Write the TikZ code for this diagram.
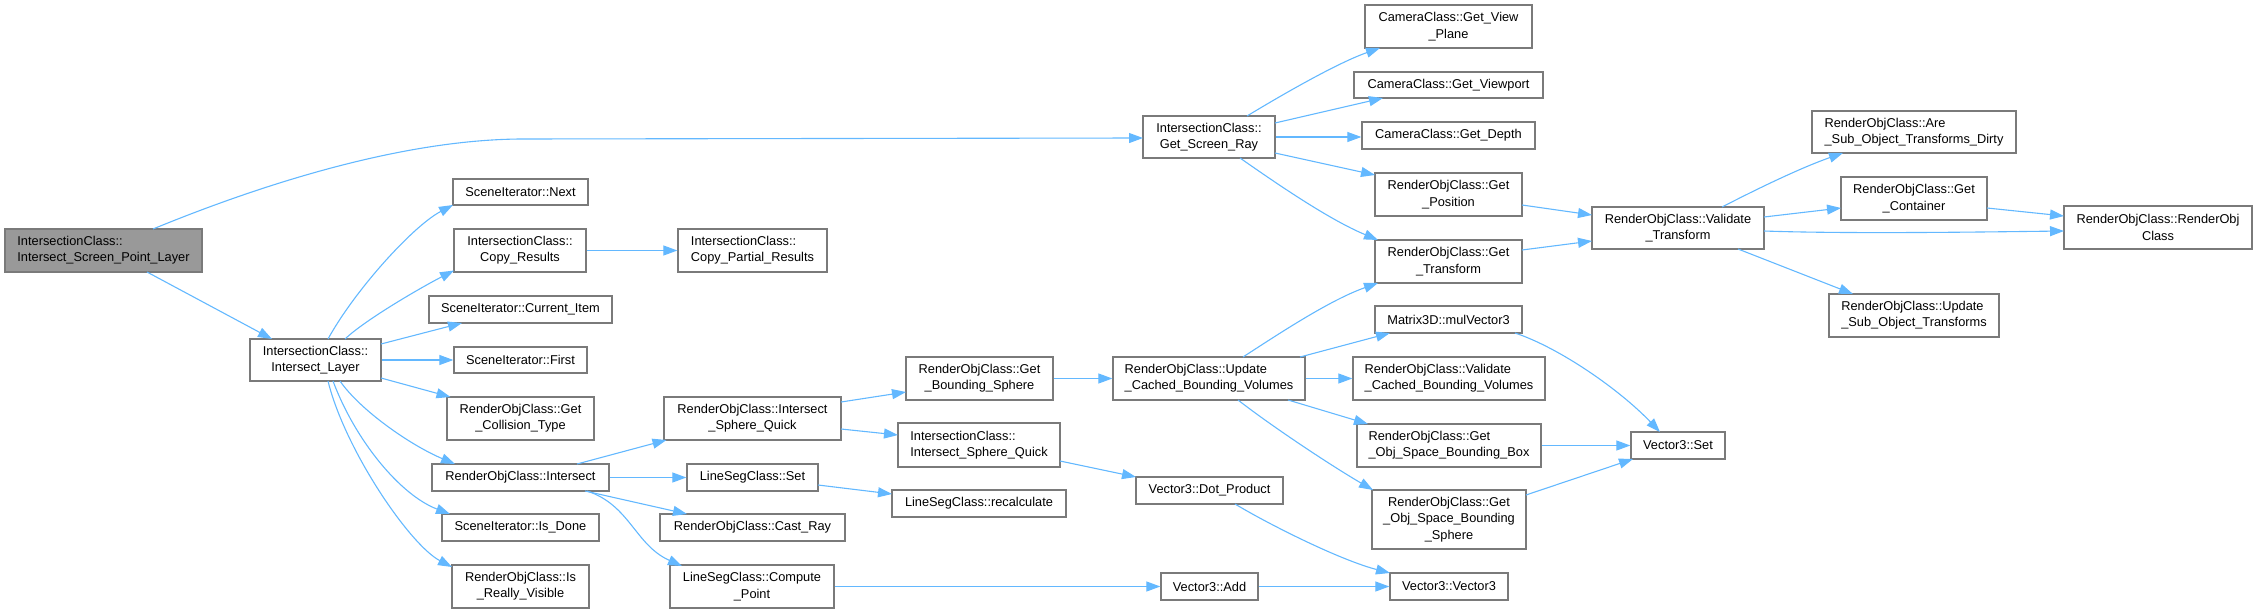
\documentclass[tikz,border=0pt]{standalone}
\usepackage{fontspec}
\setmainfont{Liberation Sans}
\usetikzlibrary{arrows.meta}
\definecolor{edgeblue}{HTML}{63B8FF}
\definecolor{boxline}{HTML}{7A7A7A}
\definecolor{rootfill}{HTML}{999999}
\begin{document}
\begin{tikzpicture}[x=1pt,y=-1pt,
  box/.style={draw=boxline, line width=1.3pt, rectangle, inner sep=0pt, fill=white,
    font=\fontsize{12.8}{16.3}\selectfont, text=black, align=center},
  lbox/.style={box, align=left},
  edge/.style={draw=edgeblue, line width=1.1pt, -{Triangle[length=14pt,width=10pt]}}]
\useasboundingbox (0,0) rectangle (2257,613);

% nodes
\node[lbox, fill=rootfill, minimum width=197pt, minimum height=43pt] (root) at (103.5,250.5) {IntersectionClass::\\Intersect\_Screen\_Point\_Layer};
\node[box, minimum width=131pt, minimum height=42pt] (layer) at (315.5,360) {IntersectionClass::\\Intersect\_Layer};
\node[box, minimum width=135pt, minimum height=26pt] (next) at (520.5,192) {SceneIterator::Next};
\node[box, minimum width=132pt, minimum height=43pt] (copyres) at (520,250.5) {IntersectionClass::\\Copy\_Results};
\node[lbox, minimum width=149pt, minimum height=43pt] (copypart) at (752.5,250.5) {IntersectionClass::\\Copy\_Partial\_Results};
\node[box, minimum width=183pt, minimum height=27pt] (curitem) at (520.5,309.5) {SceneIterator::Current\_Item};
\node[box, minimum width=133pt, minimum height=26pt] (first) at (520.5,360) {SceneIterator::First};
\node[box, minimum width=147pt, minimum height=43pt] (colltype) at (520.5,418.5) {RenderObjClass::Get\\\_Collision\_Type};
\node[box, minimum width=177pt, minimum height=27pt] (intersect) at (520.5,477.5) {RenderObjClass::Intersect};
\node[box, minimum width=157pt, minimum height=27pt] (isdone) at (520.5,527.5) {SceneIterator::Is\_Done};
\node[box, minimum width=137pt, minimum height=43pt] (visible) at (520.5,586.5) {RenderObjClass::Is\\\_Really\_Visible};
\node[box, minimum width=177pt, minimum height=43pt] (rosphere) at (752.5,418.5) {RenderObjClass::Intersect\\\_Sphere\_Quick};
\node[box, minimum width=131pt, minimum height=27pt] (lsset) at (752.5,477.5) {LineSegClass::Set};
\node[box, minimum width=185pt, minimum height=27pt] (castray) at (752.5,527.5) {RenderObjClass::Cast\_Ray};
\node[box, minimum width=164pt, minimum height=43pt] (compute) at (752,586.5) {LineSegClass::Compute\\\_Point};
\node[box, minimum width=147pt, minimum height=43pt] (bsphere) at (979.5,378.5) {RenderObjClass::Get\\\_Bounding\_Sphere};
\node[lbox, minimum width=162pt, minimum height=44pt] (icsphere) at (979,445) {IntersectionClass::\\Intersect\_Sphere\_Quick};
\node[box, minimum width=174pt, minimum height=27pt] (recalc) at (979,503.5) {LineSegClass::recalculate};
\node[box, minimum width=132pt, minimum height=42pt] (screenray) at (1209,137) {IntersectionClass::\\Get\_Screen\_Ray};
\node[box, minimum width=167pt, minimum height=43pt] (viewplane) at (1448.5,26.5) {CameraClass::Get\_View\\\_Plane};
\node[box, minimum width=189pt, minimum height=26pt] (viewport) at (1448.5,85) {CameraClass::Get\_Viewport};
\node[box, minimum width=173pt, minimum height=27pt] (depth) at (1448.5,135.5) {CameraClass::Get\_Depth};
\node[box, minimum width=147pt, minimum height=43pt] (position) at (1448.5,194.5) {RenderObjClass::Get\\\_Position};
\node[box, minimum width=147pt, minimum height=43pt] (transform) at (1448.5,261.5) {RenderObjClass::Get\\\_Transform};
\node[box, minimum width=147pt, minimum height=27pt] (mulvec) at (1448.5,319.5) {Matrix3D::mulVector3};
\node[lbox, minimum width=192pt, minimum height=43pt] (updcache) at (1209,378.5) {RenderObjClass::Update\\\_Cached\_Bounding\_Volumes};
\node[lbox, minimum width=192pt, minimum height=43pt] (valcache) at (1449,378.5) {RenderObjClass::Validate\\\_Cached\_Bounding\_Volumes};
\node[lbox, minimum width=184pt, minimum height=43pt] (objbox) at (1449,445.5) {RenderObjClass::Get\\\_Obj\_Space\_Bounding\_Box};
\node[box, minimum width=154pt, minimum height=59pt] (objsphere) at (1449,519.5) {RenderObjClass::Get\\\_Obj\_Space\_Bounding\\\_Sphere};
\node[box, minimum width=147pt, minimum height=27pt] (dot) at (1209.5,490.5) {Vector3::Dot\_Product};
\node[box, minimum width=97pt, minimum height=27pt] (add) at (1209.5,586.5) {Vector3::Add};
\node[box, minimum width=118pt, minimum height=27pt] (vec3) at (1449,586.5) {Vector3::Vector3};
\node[box, minimum width=94pt, minimum height=27pt] (vset) at (1678,445.5) {Vector3::Set};
\node[box, minimum width=172pt, minimum height=42pt] (valtrans) at (1678,228) {RenderObjClass::Validate\\\_Transform};
\node[lbox, minimum width=204pt, minimum height=42pt] (aredirty) at (1914,132) {RenderObjClass::Are\\\_Sub\_Object\_Transforms\_Dirty};
\node[box, minimum width=146pt, minimum height=43pt] (container) at (1914,198.5) {RenderObjClass::Get\\\_Container};
\node[box, minimum width=188pt, minimum height=43pt] (roclass) at (2158,227.5) {RenderObjClass::RenderObj\\Class};
\node[lbox, minimum width=170pt, minimum height=43pt] (updsub) at (1914,315.5) {RenderObjClass::Update\\\_Sub\_Object\_Transforms};

% edges
\draw[edge] ([shift={(49.5,-21.5)}]root.center) .. controls (260,185) and (400,140) .. (520,139) -- ([shift={(-66,1)}]screenray.center);
\draw[edge] ([shift={(43.5,21.5)}]root.center) -- ([shift={(-43.5,-21)}]layer.center);
\draw[edge] ([shift={(12.5,-21)}]layer.center) .. controls (355,290) and (413,226) .. ([shift={(-67.5,13)}]next.center);
\draw[edge] ([shift={(29.5,-21)}]layer.center) .. controls (365,320) and (420,288) .. ([shift={(-66,20)}]copyres.center);
\draw[edge] ([shift={(65.5,-16)}]layer.center) -- ([shift={(-58.5,13.5)}]curitem.center);
\draw[edge] (layer.east) -- (first.west);
\draw[edge] ([shift={(65.5,18)}]layer.center) -- ([shift={(-70,-21.5)}]colltype.center);
\draw[edge] ([shift={(24.5,21)}]layer.center) .. controls (360,410) and (410,445) .. ([shift={(-65.5,-13.5)}]intersect.center);
\draw[edge] ([shift={(17.5,21)}]layer.center) .. controls (355,440) and (400,495) .. ([shift={(-70.5,-13.5)}]isdone.center);
\draw[edge] ([shift={(12.5,21)}]layer.center) .. controls (345,450) and (410,545) .. ([shift={(-68.5,-19.5)}]visible.center);
\draw[edge] (copyres.east) -- (copypart.west);
\draw[edge] ([shift={(56.5,-13.5)}]intersect.center) -- ([shift={(-86,21.5)}]rosphere.center);
\draw[edge] (intersect.east) -- (lsset.west);
\draw[edge] ([shift={(64.5,13.5)}]intersect.center) -- ([shift={(-65.5,-13.5)}]castray.center);
\draw[edge] ([shift={(66.5,13.5)}]intersect.center) .. controls (630,505) and (635,545) .. ([shift={(-70,-20.5)}]compute.center);
\draw[edge] ([shift={(88.5,-16.5)}]rosphere.center) -- ([shift={(-73.5,13.5)}]bsphere.center);
\draw[edge] ([shift={(88.5,10.5)}]rosphere.center) -- ([shift={(-81,-10)}]icsphere.center);
\draw[edge] ([shift={(65.5,7.5)}]lsset.center) -- ([shift={(-87,-9.5)}]recalc.center);
\draw[edge] (compute.east) -- (add.west);
\draw[edge] (bsphere.east) -- (updcache.west);
\draw[edge] ([shift={(81,16)}]icsphere.center) -- ([shift={(-73.5,-13.5)}]dot.center);
\draw[edge] ([shift={(38,-21)}]screenray.center) .. controls (1290,90) and (1340,62) .. ([shift={(-68.5,21.5)}]viewplane.center);
\draw[edge] ([shift={(66,-14)}]screenray.center) -- ([shift={(-65.5,13)}]viewport.center);
\draw[edge] (screenray.east) -- ([shift={(0,1.5)}]depth.west);
\draw[edge] ([shift={(66,16)}]screenray.center) -- ([shift={(-73.5,-19.5)}]position.center);
\draw[edge] ([shift={(31,21)}]screenray.center) .. controls (1280,186) and (1330,220) .. ([shift={(-70.5,-21.5)}]transform.center);
\draw[edge] ([shift={(34,-21.5)}]updcache.center) .. controls (1280,333) and (1330,300) .. ([shift={(-70.5,21.5)}]transform.center);
\draw[edge] ([shift={(91,-21.5)}]updcache.center) -- ([shift={(-58.5,13.5)}]mulvec.center);
\draw[edge] (updcache.east) -- (valcache.west);
\draw[edge] ([shift={(79,21.5)}]updcache.center) -- ([shift={(-81,-21.5)}]objbox.center);
\draw[edge] ([shift={(29,21.5)}]updcache.center) .. controls (1270,425) and (1330,465) .. ([shift={(-76,-29.5)}]objsphere.center);
\draw[edge] ([shift={(73.5,10.5)}]position.center) -- ([shift={(-86,-13)}]valtrans.center);
\draw[edge] ([shift={(73.5,-11.5)}]transform.center) -- ([shift={(-86,13)}]valtrans.center);
\draw[edge] ([shift={(66.5,13.5)}]mulvec.center) .. controls (1560,348) and (1620,390) .. ([shift={(-18,-13.5)}]vset.center);
\draw[edge] (objbox.east) -- (vset.west);
\draw[edge] ([shift={(77,-24.5)}]objsphere.center) -- ([shift={(-45,13.5)}]vset.center);
\draw[edge] ([shift={(25.5,13.5)}]dot.center) .. controls (1270,525) and (1340,560) .. ([shift={(-59,-13.5)}]vec3.center);
\draw[edge] (add.east) -- (vec3.west);
\draw[edge] ([shift={(44,-21)}]valtrans.center) .. controls (1755,190) and (1800,168) .. ([shift={(-71,21)}]aredirty.center);
\draw[edge] ([shift={(86,-11)}]valtrans.center) -- ([shift={(-73,9.5)}]container.center);
\draw[edge] ([shift={(86,3)}]valtrans.center) .. controls (1850,234) and (1980,232) .. ([shift={(-94,3.5)}]roclass.center);
\draw[edge] ([shift={(60,21)}]valtrans.center) -- ([shift={(-61,-21.5)}]updsub.center);
\draw[edge] ([shift={(73,9.5)}]container.center) -- ([shift={(-94,-11.5)}]roclass.center);
\end{tikzpicture}
\end{document}
